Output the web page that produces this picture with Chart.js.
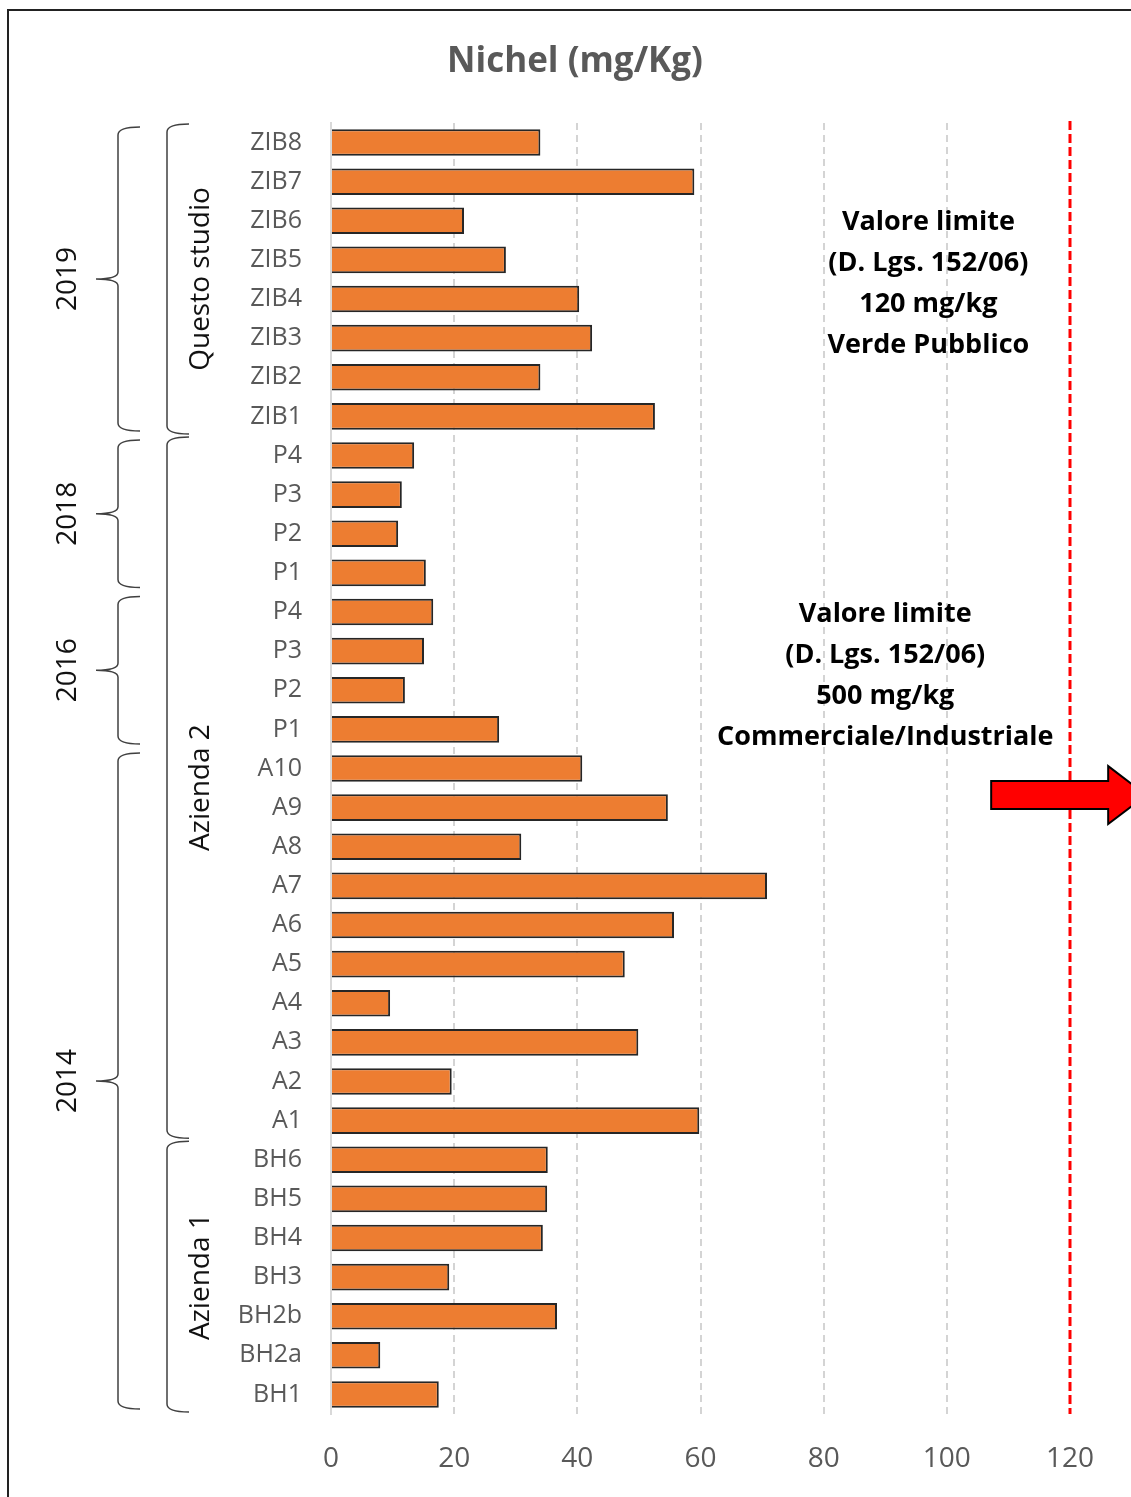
<!DOCTYPE html>
<html>
<head>
<meta charset="utf-8">
<script src="https://cdn.jsdelivr.net/npm/chart.js@4/dist/chart.umd.min.js"></script>
<style>
  html, body { margin: 0; padding: 0; background: #fff; }
  canvas { display: block; }
</style>
</head>
<body>
<canvas id="myChart" width="1131" height="1497"></canvas>
<script>
// 數據：樣本名稱與鎳含量 (mg/Kg)
const sampleLabels = ['ZIB8','ZIB7','ZIB6','ZIB5','ZIB4','ZIB3','ZIB2','ZIB1',
    'P4','P3','P2','P1',
    'P4','P3','P2','P1',
    'A10','A9','A8','A7','A6','A5','A4','A3','A2','A1',
    'BH6','BH5','BH4','BH3','BH2b','BH2a','BH1'];
const nichelValues = [34, 59, 21.6, 28.4, 40.3, 42.4, 34, 52.6,
    13.5, 11.5, 10.9, 15.4,
    16.6, 15.1, 12, 27.3,
    40.8, 54.7, 30.9, 70.8, 55.7, 47.7, 9.6, 49.9, 19.6, 59.8,
    35.2, 35.1, 34.4, 19.2, 36.7, 8, 17.5];

// 分組（索引範圍）
const yearGroups = [
    { text: '2019', from: 0, to: 7 },
    { text: '2018', from: 8, to: 11 },
    { text: '2016', from: 12, to: 15 },
    { text: '2014', from: 16, to: 32 }
];
const siteGroups = [
    { text: 'Questo studio', from: 0, to: 7 },
    { text: 'Azienda 2', from: 8, to: 25 },
    { text: 'Azienda 1', from: 26, to: 32 }
];

const xTicks = [0, 20, 40, 60, 80, 100, 120];
const limitValue = 120;
const note1 = ['Valore limite', '(D. Lgs. 152/06)', '120 mg/kg', 'Verde Pubblico'];
const note2 = ['Valore limite', '(D. Lgs. 152/06)', '500 mg/kg', 'Commerciale/Industriale'];

const FONT = "'Open Sans', 'Noto Sans', sans-serif";

// 花括號
function drawBrace(ctx, x, top, bottom, withTip) {
    const r = 8;
    ctx.beginPath();
    ctx.moveTo(x + 22, top);
    ctx.quadraticCurveTo(x, top, x, top + r);
    if (withTip) {
        const mid = (top + bottom) / 2;
        ctx.lineTo(x, mid - 7);
        ctx.quadraticCurveTo(x, mid, x - 22, mid);
        ctx.quadraticCurveTo(x, mid, x, mid + 7);
    }
    ctx.lineTo(x, bottom - r);
    ctx.quadraticCurveTo(x, bottom, x + 22, bottom);
    ctx.stroke();
}

const decorPlugin = {
    id: 'decor',
    afterDraw(chart) {
        const ctx = chart.ctx;
        const x = chart.scales.x;
        const y = chart.scales.y;
        const area = chart.chartArea;
        const half = (y.getPixelForValue(1) - y.getPixelForValue(0)) / 2;
        ctx.save();

        // 外框
        ctx.strokeStyle = '#222';
        ctx.lineWidth = 2;
        ctx.beginPath();
        ctx.moveTo(8, 1500);
        ctx.lineTo(8, 10);
        ctx.lineTo(1135, 10);
        ctx.stroke();

        // 標題
        ctx.fillStyle = '#595959';
        ctx.font = 'bold 35px ' + FONT;
        ctx.textAlign = 'center';
        ctx.textBaseline = 'middle';
        ctx.fillText('Nichel (mg/Kg)', 575, 62);

        // 限值紅色虛線
        const lx = x.getPixelForValue(limitValue);
        ctx.strokeStyle = '#ff0000';
        ctx.lineWidth = 3;
        ctx.setLineDash([9, 4]);
        ctx.beginPath();
        ctx.moveTo(lx, area.top - 2);
        ctx.lineTo(lx, area.bottom);
        ctx.stroke();
        ctx.setLineDash([]);

        // 年份括號
        ctx.strokeStyle = '#404040';
        ctx.lineWidth = 1.5;
        yearGroups.forEach(g => {
            const top = y.getPixelForValue(g.from) - half + 4;
            const bottom = y.getPixelForValue(g.to) + half - 5;
            drawBrace(ctx, 118, top, bottom, true);
            ctx.save();
            ctx.translate(68, (top + bottom) / 2);
            ctx.rotate(-Math.PI / 2);
            ctx.fillStyle = '#111';
            ctx.font = '28px ' + FONT;
            ctx.textAlign = 'center';
            ctx.textBaseline = 'middle';
            ctx.fillText(g.text, 0, 0);
            ctx.restore();
        });

        // 地點括號
        siteGroups.forEach(g => {
            const top = y.getPixelForValue(g.from) - half + 1;
            const bottom = y.getPixelForValue(g.to) + half - 2;
            drawBrace(ctx, 167, top, bottom, false);
            ctx.save();
            ctx.translate(201, (top + bottom) / 2);
            ctx.rotate(-Math.PI / 2);
            ctx.fillStyle = '#111';
            ctx.font = '28px ' + FONT;
            ctx.textAlign = 'center';
            ctx.textBaseline = 'middle';
            ctx.fillText(g.text, 0, 0);
            ctx.restore();
        });

        // 註解文字
        ctx.fillStyle = '#000';
        ctx.font = 'bold 27px ' + FONT;
        ctx.textAlign = 'center';
        ctx.textBaseline = 'middle';
        const y1 = y.getPixelForValue(2.05);
        note1.forEach((t, i) => ctx.fillText(t, x.getPixelForValue(97), y1 + i * 41));
        const y2 = y.getPixelForValue(12.05);
        note2.forEach((t, i) => ctx.fillText(t, x.getPixelForValue(90), y2 + i * 41));

        // 紅色箭頭
        const ay = y.getPixelForValue(16.68);
        const ax0 = x.getPixelForValue(107.2);
        const axh = x.getPixelForValue(126.2);
        const axt = x.getPixelForValue(132.4);
        ctx.fillStyle = '#ff0000';
        ctx.strokeStyle = '#000';
        ctx.lineWidth = 2;
        ctx.beginPath();
        ctx.moveTo(ax0, ay - 14);
        ctx.lineTo(axh, ay - 14);
        ctx.lineTo(axh, ay - 29);
        ctx.lineTo(axt, ay);
        ctx.lineTo(axh, ay + 29);
        ctx.lineTo(axh, ay + 14);
        ctx.lineTo(ax0, ay + 14);
        ctx.closePath();
        ctx.fill();
        ctx.stroke();

        ctx.restore();
    }
};

const ctx = document.getElementById('myChart').getContext('2d');
const myChart = new Chart(ctx, {
    type: 'bar',
    data: {
        labels: sampleLabels,
        datasets: [{
            label: 'Nichel',
            data: nichelValues,
            backgroundColor: '#ed7d31',
            borderColor: '#262626',
            borderWidth: 2,
            categoryPercentage: 1,
            barPercentage: 0.68
        }]
    },
    options: {
        indexAxis: 'y',
        responsive: false,
        animation: false,
        layout: {
            padding: { top: 123, right: 61, bottom: 0, left: 0 }
        },
        plugins: {
            legend: { display: false },
            tooltip: { enabled: false }
        },
        scales: {
            x: {
                min: 0,
                max: 120,
                afterBuildTicks: s => { s.ticks = xTicks.map(v => ({ value: v })); },
                afterFit: s => { s.height = 83; },
                grid: {
                    color: c => c.tick && c.tick.value === limitValue ? 'rgba(0,0,0,0)' : '#d4d4d4',
                    lineWidth: 2,
                    drawTicks: false
                },
                border: { display: false, dash: [7, 5] },
                ticks: {
                    color: '#595959',
                    padding: 28,
                    font: { family: FONT, size: 28 }
                }
            },
            y: {
                afterFit: s => { s.width = 331; },
                grid: { display: false, drawTicks: false },
                border: { display: true, color: '#d9d9d9', width: 2 },
                ticks: {
                    color: '#595959',
                    padding: 29,
                    autoSkip: false,
                    font: { family: FONT, size: 25 }
                }
            }
        }
    },
    plugins: [decorPlugin]
});
</script>
</body>
</html>
